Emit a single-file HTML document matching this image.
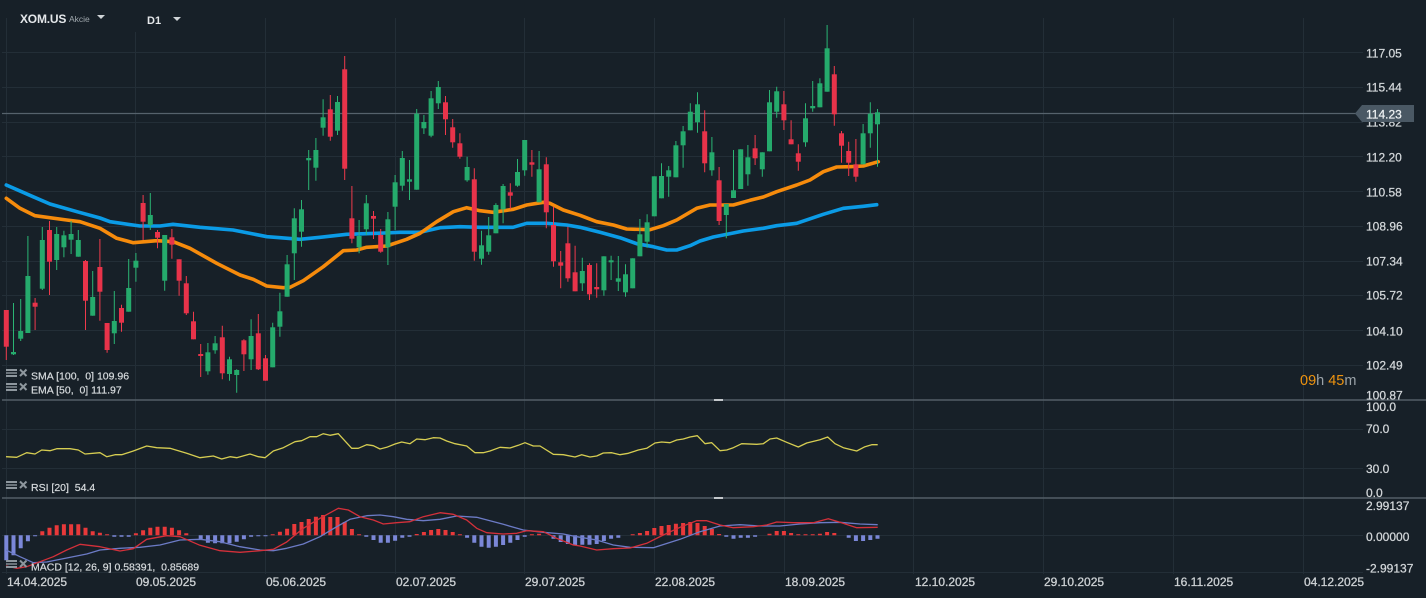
<!DOCTYPE html>
<html><head><meta charset="utf-8"><style>
html,body{margin:0;padding:0;background:#172028;}
svg{display:block;font-family:"Liberation Sans",sans-serif;}
</style></head><body>
<svg width="1426" height="598" viewBox="0 0 1426 598" xmlns="http://www.w3.org/2000/svg">
<rect width="1426" height="598" fill="#172028"/>
<!-- grid -->
<g stroke="#232e37" stroke-width="1">
<path d="M2 52.5H1363M2 87.5H1363M2 122.5H1363M2 156.5H1363M2 191.5H1363M2 226.5H1363M2 261.5H1363M2 295.5H1363M2 330.5H1363M2 365.5H1363M2 429.5H1363M2 468.5H1363M2 535.5H1363M2 572.5H1363"/>
<path d="M6.5 18V574M135.5 32V574M265.5 18V574M395.5 18V574M524.5 18V574M654.5 18V574M784.5 18V574M913.5 18V574M1043.5 18V574M1173.5 18V574M1303.5 18V574"/>
</g>
<!-- separators -->
<path d="M2 400H1426M2 498H1426" stroke="#535e67" stroke-width="1.4"/>
<rect x="714" y="399" width="9" height="2" fill="#c4c8cc"/>
<rect x="714" y="497" width="9" height="2" fill="#c4c8cc"/>
<!-- current price line -->
<path d="M2 113.5H1356" stroke="#56626c" stroke-width="1.2"/>

<!-- SMA / EMA -->
<polyline fill="none" stroke="#0b9be6" stroke-width="3.6" stroke-linejoin="round" stroke-linecap="round" points="6.3,185 33,196.7 50,204 77,211.7 100,218 110,221.7 140,226 160,226 173,224.3 200,227.3 233,230 267,236.7 280,237.7 300,239.3 320,237.3 346.7,234.3 376.7,233.3 400,232.3 420,232.3 440,227.7 460,226.7 480,227.3 513,227.3 526.7,223.3 546.7,223.3 566.7,225 580,227.3 600,232.3 620,237.7 636.7,243.7 653.3,246.7 666.7,250 676.7,250 690,245.7 700,241 713.3,237 743.3,231 763.3,228.3 776.7,225.7 796.7,223.3 823.3,214.3 843.3,208.3 863.3,206.3 876.7,204.7"/>
<polyline fill="none" stroke="#f68b0c" stroke-width="3.6" stroke-linejoin="round" stroke-linecap="round" points="6.3,198.3 20,208.3 35,215.7 66.7,220 80,221.7 100,228.3 116.7,238.3 133.3,242.7 156.7,240.7 173.3,241.7 190,248.3 216.7,263.3 240,275 253.3,279.3 266.7,286 283.3,287.7 290,287.3 303.3,280.7 323.3,266.7 343.3,250.7 356.7,250 366.7,247.3 386.7,246 406.7,239.3 420,233.3 436.7,221.7 453.3,211.7 466.7,207.7 480,210.7 493.3,212.3 513.3,209.3 526.7,205 543.3,202.3 550,203.3 563.3,210 580,215.3 596.7,221.7 613.3,225 626.7,229 650,229.7 663.3,225.7 676.7,220 696.7,208.3 710,205 733.3,205 750,200.3 763.3,197 776.7,191.7 796.7,185 810,180 823.3,171.7 836.7,167 850,166.7 863.3,166 878.3,161.7"/>

<!-- green candles -->
<path fill="none" stroke="#2bb574" stroke-width="1" d="M13.5 303V355 M20.7 299V341 M27.9 236V333 M42.3 227V290 M56.7 227V270 M63.9 230.7V257.3 M71.1 221V254 M78.3 230V256.7 M92.7 271V315.7 M114.3 291V344 M128.7 259V311.7 M135.9 253V281.7 M150.3 193V230 M164.7 235V290.7 M207.9 343V374.7 M215.1 336V353.7 M229.5 356.7V380.7 M236.7 369.3V392.7 M251.1 319.3V370 M272.7 322.7V367.3 M279.9 292.7V336.7 M287.1 255V296.7 M294.3 208.3V280 M301.5 200V246.7 M308.7 150V190 M315.9 138V180.7 M323.1 99.3V135.7 M337.5 96V135 M359.1 220V253.3 M366.3 195V235 M387.9 212V265 M395.1 175V230 M402.3 151V190.7 M409.5 160V200 M416.7 109V189.7 M423.9 115V134 M431.1 91V137.3 M438.3 81V109 M467.1 156.7V181.7 M481.5 230.7V264.7 M488.7 217V254.7 M495.9 203.3V233.3 M503.1 184V223.3 M517.5 159V186.7 M524.7 140V175.7 M539.1 151V202.3 M582.3 257.7V291 M603.9 256.3V295.7 M611.1 255.7V280 M618.3 256V291 M625.5 264.3V296.7 M632.7 258.3V288.3 M639.9 219V256.3 M647.1 214.3V247.7 M654.3 176.3V216.3 M661.5 163.3V198.3 M668.7 166V196.7 M675.9 141V177.3 M683.1 126V167.7 M690.3 103.3V130.3 M697.5 92.3V132.7 M711.9 137V175.7 M726.3 204V238.3 M733.5 150V198 M740.7 149.3V189 M747.9 145V185.7 M762.3 152.3V176.7 M769.5 90V151.3 M776.7 86.7V117.7 M805.5 103.3V146.7 M812.7 81V111.7 M819.9 78.3V107.3 M827.1 25V91.7 M863.1 124V164.3 M870.3 102.3V147.7 M877.5 109V166.7"/>
<g fill="#25aa6c">
<rect x="11" y="352" width="5" height="2.3"/>
<rect x="18.2" y="331" width="5" height="7.7"/>
<rect x="25.4" y="276" width="5" height="57"/>
<rect x="39.8" y="240" width="5" height="48.7"/>
<rect x="54.2" y="234" width="5" height="26"/>
<rect x="61.4" y="235.3" width="5" height="12"/>
<rect x="68.6" y="234" width="5" height="5.7"/>
<rect x="75.8" y="240" width="5" height="16.7"/>
<rect x="90.2" y="297" width="5" height="18.7"/>
<rect x="111.8" y="321" width="5" height="12.3"/>
<rect x="126.2" y="288" width="5" height="23.7"/>
<rect x="133.4" y="260.7" width="5" height="7"/>
<rect x="147.8" y="215" width="5" height="10"/>
<rect x="162.2" y="235" width="5" height="45.7"/>
<rect x="205.4" y="352.3" width="5" height="19"/>
<rect x="212.6" y="343.3" width="5" height="7"/>
<rect x="227" y="359.3" width="5" height="14.7"/>
<rect x="234.2" y="370" width="5" height="5"/>
<rect x="248.6" y="336" width="5" height="23.3"/>
<rect x="270.2" y="327.3" width="5" height="40"/>
<rect x="277.4" y="311.3" width="5" height="15.4"/>
<rect x="284.6" y="264.3" width="5" height="32.4"/>
<rect x="291.8" y="218.3" width="5" height="35"/>
<rect x="299" y="209.3" width="5" height="22.4"/>
<rect x="306.2" y="158" width="5" height="2.3"/>
<rect x="313.4" y="150" width="5" height="17.7"/>
<rect x="320.6" y="117.3" width="5" height="10.4"/>
<rect x="335" y="102" width="5" height="28.7"/>
<rect x="356.6" y="236" width="5" height="11.3"/>
<rect x="363.8" y="203.3" width="5" height="26"/>
<rect x="385.4" y="219.3" width="5" height="28"/>
<rect x="392.6" y="182.3" width="5" height="24.4"/>
<rect x="399.8" y="158" width="5" height="27.7"/>
<rect x="407" y="179.3" width="5" height="2.4"/>
<rect x="414.2" y="113.7" width="5" height="76"/>
<rect x="421.4" y="122" width="5" height="6.3"/>
<rect x="428.6" y="98.3" width="5" height="37.4"/>
<rect x="435.8" y="87" width="5" height="16.3"/>
<rect x="464.6" y="167" width="5" height="13.3"/>
<rect x="479" y="245.3" width="5" height="13.4"/>
<rect x="486.2" y="235.3" width="5" height="16.4"/>
<rect x="493.4" y="205" width="5" height="28.3"/>
<rect x="500.6" y="186" width="5" height="23.3"/>
<rect x="515" y="172" width="5" height="13.7"/>
<rect x="522.2" y="140" width="5" height="30.3"/>
<rect x="536.6" y="169.3" width="5" height="33"/>
<rect x="579.8" y="271" width="5" height="12.3"/>
<rect x="601.4" y="256.3" width="5" height="34"/>
<rect x="608.6" y="260.3" width="5" height="2"/>
<rect x="615.8" y="278.3" width="5" height="3.4"/>
<rect x="623" y="274.3" width="5" height="18"/>
<rect x="630.2" y="258.3" width="5" height="30"/>
<rect x="637.4" y="234.3" width="5" height="22"/>
<rect x="644.6" y="222.3" width="5" height="19.4"/>
<rect x="651.8" y="176.3" width="5" height="40"/>
<rect x="659" y="176" width="5" height="22.3"/>
<rect x="666.2" y="170.3" width="5" height="6.4"/>
<rect x="673.4" y="145.3" width="5" height="32"/>
<rect x="680.6" y="131.3" width="5" height="14"/>
<rect x="687.8" y="111.7" width="5" height="18.6"/>
<rect x="695" y="104.3" width="5" height="18"/>
<rect x="709.4" y="152.3" width="5" height="18"/>
<rect x="723.8" y="204" width="5" height="11"/>
<rect x="731" y="190.3" width="5" height="7.7"/>
<rect x="738.2" y="149.3" width="5" height="39.7"/>
<rect x="745.4" y="157.3" width="5" height="17"/>
<rect x="759.8" y="152.3" width="5" height="17"/>
<rect x="767" y="102.3" width="5" height="49"/>
<rect x="774.2" y="91.3" width="5" height="20.4"/>
<rect x="803" y="118.3" width="5" height="24"/>
<rect x="810.2" y="106" width="5" height="2.3"/>
<rect x="817.4" y="83.3" width="5" height="24"/>
<rect x="824.6" y="48.3" width="5" height="43.4"/>
<rect x="860.6" y="133.3" width="5" height="31"/>
<rect x="867.8" y="113.7" width="5" height="19.6"/>
<rect x="875" y="112.3" width="5" height="12"/>
</g>
<!-- red candles -->
<path fill="none" stroke="#ef3a4c" stroke-width="1" d="M6.3 310V360 M35.1 298V330 M49.5 221V295 M85.5 260V330 M99.9 239V320.7 M107.1 323V352.7 M121.5 304.7V331.7 M143.1 195V240 M157.5 230V248.3 M171.9 229V258.7 M179.1 259.3V295.7 M186.3 276V315 M193.5 311.7V339.3 M200.7 344V377 M222.3 325.7V379.3 M243.9 339.3V371 M258.3 314V370 M265.5 355V380.7 M330.3 95V140.7 M344.7 56V180 M351.9 186V243.3 M373.5 211V239 M380.7 229V252.7 M445.5 96V135 M452.7 119V147.7 M459.9 133.3V158.7 M474.3 168.3V260.7 M510.3 183.3V209.3 M531.9 150V176.7 M546.3 157.3V228.3 M553.5 206.7V266.7 M560.7 251V288.3 M567.9 226.7V281.7 M575.1 245.7V291.3 M589.5 263.3V300 M596.7 263.3V297.7 M704.7 110.3V172.3 M719.1 167V225 M755.1 135V165 M783.9 91V130 M791.1 120.3V144.3 M798.3 144.3V170.7 M834.3 66V125.7 M841.5 131V162.7 M848.7 141.7V176 M855.9 139V181.7"/>
<g fill="#e8334a">
<rect x="3.8" y="310" width="5" height="36.7"/>
<rect x="32.6" y="302.7" width="5" height="4"/>
<rect x="47" y="230" width="5" height="31.7"/>
<rect x="83" y="261" width="5" height="39.7"/>
<rect x="97.4" y="267" width="5" height="24.7"/>
<rect x="104.6" y="323" width="5" height="27"/>
<rect x="119" y="308" width="5" height="14.7"/>
<rect x="140.6" y="203" width="5" height="18.7"/>
<rect x="155" y="232" width="5" height="5.7"/>
<rect x="169.4" y="237.3" width="5" height="7.4"/>
<rect x="176.6" y="259.3" width="5" height="21.4"/>
<rect x="183.8" y="283.3" width="5" height="30"/>
<rect x="191" y="321.3" width="5" height="18"/>
<rect x="198.2" y="354" width="5" height="2"/>
<rect x="219.8" y="337.3" width="5" height="36"/>
<rect x="241.4" y="340.3" width="5" height="14"/>
<rect x="255.8" y="333.3" width="5" height="36"/>
<rect x="263" y="358.3" width="5" height="22.4"/>
<rect x="327.8" y="109.3" width="5" height="27.4"/>
<rect x="342.2" y="69.3" width="5" height="99.4"/>
<rect x="349.4" y="218.3" width="5" height="20.4"/>
<rect x="371" y="216" width="5" height="2.7"/>
<rect x="378.2" y="235" width="5" height="16.7"/>
<rect x="443" y="102.3" width="5" height="17"/>
<rect x="450.2" y="127.3" width="5" height="15"/>
<rect x="457.4" y="143.3" width="5" height="13.4"/>
<rect x="471.8" y="179.3" width="5" height="72.4"/>
<rect x="507.8" y="192.3" width="5" height="3.4"/>
<rect x="529.4" y="162.3" width="5" height="2.4"/>
<rect x="543.8" y="164.3" width="5" height="48"/>
<rect x="551" y="225" width="5" height="36.3"/>
<rect x="558.2" y="262.3" width="5" height="3.4"/>
<rect x="565.4" y="243.3" width="5" height="35"/>
<rect x="572.6" y="272.3" width="5" height="19"/>
<rect x="587" y="265" width="5" height="29.3"/>
<rect x="594.2" y="287" width="5" height="2.3"/>
<rect x="702.2" y="131.3" width="5" height="32"/>
<rect x="716.6" y="180.3" width="5" height="40.7"/>
<rect x="752.6" y="148.3" width="5" height="10"/>
<rect x="781.4" y="104.3" width="5" height="16"/>
<rect x="788.6" y="139.3" width="5" height="5"/>
<rect x="795.8" y="153.3" width="5" height="8.4"/>
<rect x="831.8" y="74.3" width="5" height="40"/>
<rect x="839" y="133.3" width="5" height="12.4"/>
<rect x="846.2" y="151" width="5" height="11.7"/>
<rect x="853.4" y="164.3" width="5" height="12.4"/>
</g>

<!-- RSI -->
<polyline fill="none" stroke="#d6cd52" stroke-width="1.3" stroke-linejoin="round" points="6,456.7 16.7,457.3 26.7,452.7 35,454 41.7,450 50,450.7 56.7,448.7 70,448.7 78.3,450 85,454 100,452.7 106.7,456.7 115,454.7 121.7,454.7 133.3,451 146.7,446 156.7,447.7 170,448.3 186.7,453.3 200,457.7 213.3,456 221.7,459 230,456.7 236.7,457.7 250,454 258.3,456.7 265,457.7 273.3,451 283.3,447.7 295,441.7 301.7,440.7 310,436.7 316.7,436.7 323.3,433.7 330,435.3 338.3,433.7 351.7,448.3 358.3,448.3 366.7,444.7 373.3,445.7 380,449 386.7,447.3 395,444 401.7,442 410,443.7 416.7,439 425,439.7 433.3,437.7 440,438 446.7,441 455,443.7 466.7,446 475,452.7 483.3,452.7 490,451 500,447.3 510,448 518.3,445.3 525,442.7 533.3,446 540,446 553.3,454.3 563.3,454.7 575,457 581.7,454.7 590,457 596.7,456 603.3,453 611.7,452.7 620,454.7 628.3,453.3 638.3,450 646.7,448.3 655,443 661.7,442 670,442.7 676.7,440 683.3,439 690,437 697.3,435.7 705,443.7 711.7,442.7 720,450.7 726.7,450 733.3,447.7 741.7,443.7 756.7,444.3 763.3,443.7 770,439 776.7,438 786.7,442.3 798.3,447 806.7,443 820,439.7 827.7,437 835,443.7 843.3,447.7 856.7,451 865,446.7 871.7,444.7 877.7,444.7"/>

<!-- MACD histogram -->
<path fill="#e8393a" d="M40.3 531.3h4v4h-4zM47.5 527.8h4v7.5h-4zM54.7 525.3h4v10h-4zM61.9 524.3h4v11h-4zM69.1 524.3h4v11h-4zM76.3 524.3h4v11h-4zM83.5 527.8h4v7.5h-4zM90.7 531.3h4v4h-4zM97.9 532.8h4v2.5h-4zM105.1 534.3h4v1h-4zM133.9 533.3h4v2h-4zM141.1 530.3h4v5h-4zM148.3 527.8h4v7.5h-4zM155.5 526.8h4v8.5h-4zM162.7 526.8h4v8.5h-4zM169.9 527.8h4v7.5h-4zM177.1 530.3h4v5h-4zM184.3 533.3h4v2h-4zM270.7 534.3h4v1h-4zM277.9 531.8h4v3.5h-4zM285.1 528.8h4v6.5h-4zM292.3 524h4v11.3h-4zM299.5 522h4v13.3h-4zM306.7 519h4v16.3h-4zM313.9 516.7h4v18.6h-4zM321.1 515h4v20.3h-4zM328.3 517h4v18.3h-4zM335.5 517h4v18.3h-4zM342.7 522h4v13.3h-4zM349.9 529h4v6.3h-4zM357.1 534.3h4v1h-4zM414.7 534h4v1.3h-4zM421.9 532h4v3.3h-4zM429.1 530h4v5.3h-4zM436.3 529h4v6.3h-4zM443.5 530h4v5.3h-4zM450.7 532h4v3.3h-4zM457.9 534.3h4v1h-4zM529.9 534.3h4v1h-4zM537.1 533.7h4v1.6h-4zM630.7 534.3h4v1h-4zM637.9 533h4v2.3h-4zM645.1 531h4v4.3h-4zM652.3 528h4v7.3h-4zM659.5 526h4v9.3h-4zM666.7 525h4v10.3h-4zM673.9 523.7h4v11.6h-4zM681.1 523h4v12.3h-4zM688.3 522h4v13.3h-4zM695.5 523h4v12.3h-4zM702.7 526h4v9.3h-4zM709.9 529h4v6.3h-4zM717.1 534h4v1.3h-4zM767.5 533.7h4v1.6h-4zM774.7 531h4v4.3h-4zM781.9 531h4v4.3h-4zM789.1 533h4v2.3h-4zM796.3 534.3h4v1h-4zM803.5 534.3h4v1h-4zM810.7 534.3h4v1h-4zM817.9 533.7h4v1.6h-4zM825.1 532h4v3.3h-4zM832.3 533h4v2.3h-4z"/>
<path fill="#7b87d8" d="M4.3 535.3h4v25h-4zM11.5 535.3h4v20h-4zM18.7 535.3h4v13h-4zM25.9 535.3h4v6h-4zM33.1 535.3h4v1h-4zM112.3 535.3h4v1.5h-4zM119.5 535.3h4v1.5h-4zM126.7 535.3h4v1.5h-4zM198.7 535.3h4v4.5h-4zM205.9 535.3h4v7.5h-4zM213.1 535.3h4v8h-4zM220.3 535.3h4v8h-4zM227.5 535.3h4v8h-4zM234.7 535.3h4v6.5h-4zM241.9 535.3h4v4h-4zM249.1 535.3h4v1.5h-4zM256.3 535.3h4v1h-4zM263.5 535.3h4v1h-4zM364.3 535.3h4v1.4h-4zM371.5 535.3h4v4.7h-4zM378.7 535.3h4v7.4h-4zM385.9 535.3h4v7.4h-4zM393.1 535.3h4v5.4h-4zM400.3 535.3h4v2.4h-4zM407.5 535.3h4v1.4h-4zM465.1 535.3h4v2.4h-4zM472.3 535.3h4v7.4h-4zM479.5 535.3h4v11.4h-4zM486.7 535.3h4v12.4h-4zM493.9 535.3h4v11.4h-4zM501.1 535.3h4v9.7h-4zM508.3 535.3h4v7.4h-4zM515.5 535.3h4v4.7h-4zM522.7 535.3h4v1.4h-4zM551.5 535.3h4v3.4h-4zM558.7 535.3h4v6.7h-4zM565.9 535.3h4v8.7h-4zM573.1 535.3h4v9.7h-4zM580.3 535.3h4v9.5h-4zM587.5 535.3h4v9.4h-4zM594.7 535.3h4v8.7h-4zM601.9 535.3h4v5.7h-4zM609.1 535.3h4v3.4h-4zM616.3 535.3h4v2.4h-4zM724.3 535.3h4v1.4h-4zM731.5 535.3h4v3.4h-4zM738.7 535.3h4v2.4h-4zM745.9 535.3h4v2.4h-4zM753.1 535.3h4v1.4h-4zM846.7 535.3h4v2.4h-4zM853.9 535.3h4v5.7h-4zM861.1 535.3h4v5.7h-4zM868.3 535.3h4v4.7h-4zM875.5 535.3h4v3.4h-4z"/>
<!-- MACD lines -->
<polyline fill="none" stroke="#6c7bc6" stroke-width="1.3" stroke-linejoin="round" points="6,550 20,556.7 33.3,562.7 46.7,562 66.7,558 86.7,554 100,550 120,548.3 140,547.3 160,545 180,540 200,539.3 220,541.7 240,546.7 260,550 273.3,550.7 286.7,548.3 303.3,544 320,536.7 336.7,526.7 350,519.3 366.7,515.7 380,515 393.3,516.7 406.7,519.3 423.3,520.7 440,519.3 456.7,516 476.7,517.3 490,520.7 503.3,524.3 523.3,530 543.3,532.3 563.3,534 576.7,536.7 596.7,540 613.3,545 630,547.3 653.3,547.7 680,539.3 700,531.7 720,526 740,524.7 760,526 780,526 800,524 820,522.7 840,522.3 860,524 877.7,524.7"/>
<polyline fill="none" stroke="#d4303a" stroke-width="1.3" stroke-linejoin="round" points="6,566 16.7,568.3 26.7,566.7 40,561.7 53.3,556.7 66.7,550 80,544.3 100,546.7 120,551 133.3,548.7 146.7,539.3 166.7,535.7 180,536.7 200,545.3 220,550.7 240,552.3 260,550.7 273.3,549.3 286.7,542 303.3,528.3 320,518.3 338.3,508.3 348.3,510 360,516.7 373.3,520 383.3,524 396.7,522.7 410,521.7 423.3,516.7 440,512.7 453.3,514.3 466.7,520 476.7,528.3 486.7,532.7 503.3,534 516.7,533.3 526.7,530.7 543.3,531.7 556.7,538.3 573.3,545 580,546 596.7,550 613.3,548.7 630,548 646.7,543.3 663.3,535 680,527.3 696.7,520.7 706.7,520.7 720,525 733.3,527.7 753.3,526.7 766.7,525 776.7,522 793.3,522.7 813.3,522.7 828.3,518.7 840,522.3 856.7,527.7 877.7,527.3"/>

<!-- header -->
<text x="20" y="23" font-size="12" font-weight="bold" fill="#e4e7ea" letter-spacing="-0.2">XOM.US</text>
<text x="69" y="22" font-size="8.5" fill="#a0a8ae">Akcie</text>
<path d="M97 15H105L101 19Z" fill="#d0d4d7"/>
<text x="147" y="24" font-size="11" font-weight="bold" fill="#e4e7ea">D1</text>
<path d="M173 17H181L177 21Z" fill="#d0d4d7"/>

<!-- legends -->
<g fill="#8e979e">
<rect x="6" y="369" width="11" height="2"/><rect x="6" y="372.3" width="11" height="1.4"/><rect x="6" y="375" width="11" height="2"/>
<rect x="6" y="383" width="11" height="2"/><rect x="6" y="386.3" width="11" height="1.4"/><rect x="6" y="389" width="11" height="2"/>
<rect x="6" y="481" width="11" height="2"/><rect x="6" y="484.3" width="11" height="1.4"/><rect x="6" y="487" width="11" height="2"/>
<rect x="6" y="560" width="11" height="2"/><rect x="6" y="563.3" width="11" height="1.4"/><rect x="6" y="566" width="11" height="2"/>
</g>
<path d="M20 369.5L26.5 376M26.5 369.5L20 376M20 383.5L26.5 390M26.5 383.5L20 390M20 481.5L26.5 488M26.5 481.5L20 488M20 560.5L26.5 567M26.5 560.5L20 567" stroke="#8e979e" stroke-width="2"/>
<g font-size="10.5" fill="#d6dadd" stroke="#d6dadd" stroke-width="0.2" style="white-space:pre">
<text x="31" y="379.5" xml:space="preserve">SMA [100,  0] 109.96</text>
<text x="31" y="393.5" xml:space="preserve">EMA [50,  0] 111.97</text>
<text x="31" y="491" xml:space="preserve">RSI [20]  54.4</text>
<text x="31" y="570.5" xml:space="preserve">MACD [12, 26, 9] 0.58391,  0.85689</text>
</g>

<!-- timer -->
<text x="1300" y="385" font-size="14.5"><tspan fill="#ee930f">09</tspan><tspan fill="#9aa2a8">h </tspan><tspan fill="#ee930f">45</tspan><tspan fill="#9aa2a8">m</tspan></text>

<!-- price axis -->
<g font-size="12" fill="#d3d7da" stroke="#d3d7da" stroke-width="0.25">
<text x="1366" y="57.3">117.05</text>
<text x="1366" y="91.7">115.44</text>
<text x="1366" y="126.7">113.82</text>
<text x="1366" y="161.3">112.20</text>
<text x="1366" y="196.7">110.58</text>
<text x="1366" y="230.7">108.96</text>
<text x="1366" y="265.7">107.34</text>
<text x="1366" y="299.7">105.72</text>
<text x="1366" y="335.3">104.10</text>
<text x="1366" y="369.3">102.49</text>
<text x="1366" y="399.3">100.87</text>
<text x="1366" y="411">100.0</text>
<text x="1366" y="433">70.0</text>
<text x="1366" y="473">30.0</text>
<text x="1366" y="497">0.0</text>
<text x="1366" y="510">2.99137</text>
<text x="1366" y="541">0.00000</text>
<text x="1366" y="572.5">-2.99137</text>
</g>
<path d="M1355 113.5L1362 105H1414V122H1362Z" fill="#4a5864"/>
<text x="1366" y="118.7" font-size="12" fill="#eef1f3" stroke="#eef1f3" stroke-width="0.25">114.23</text>

<!-- date axis -->
<g font-size="12" fill="#cdd1d4" stroke="#cdd1d4" stroke-width="0.3">
<text x="7" y="586">14.04.2025</text>
<text x="136" y="586">09.05.2025</text>
<text x="266" y="586">05.06.2025</text>
<text x="396" y="586">02.07.2025</text>
<text x="525" y="586">29.07.2025</text>
<text x="655" y="586">22.08.2025</text>
<text x="785" y="586">18.09.2025</text>
<text x="915" y="586">12.10.2025</text>
<text x="1044" y="586">29.10.2025</text>
<text x="1174" y="586">16.11.2025</text>
<text x="1304" y="586">04.12.2025</text>
</g>
</svg>
</body></html>
